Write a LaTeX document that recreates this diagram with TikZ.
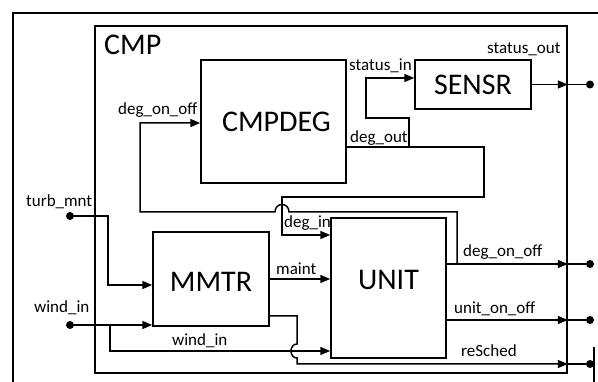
\documentclass[tikz,border=0pt]{standalone}
\usepackage{fontspec}
\setmainfont{Carlito}
\usetikzlibrary{arrows.meta}
\tikzset{
  blk/.style={draw, line width=1.5pt, inner sep=0pt, rectangle},
  big/.style={font=\fontsize{30}{30}\selectfont, inner sep=0pt},
  lbl/.style={font=\fontsize{17}{18}\selectfont, anchor=base west, inner sep=0pt},
  wire/.style={line width=1.5pt},
  arr/.style={wire, -{Triangle[length=10pt,width=8pt]}},
  pin/.style={circle, fill, inner sep=0pt, minimum size=8pt},
}
\begin{document}
\begin{tikzpicture}[x=1pt,y=-1pt]
\useasboundingbox (0,0) rectangle (598,382);
% outer frame
\draw[line width=2.5pt] (598,13) -- (13,13) -- (13,383);
% boxes
\node[blk, minimum width=472pt, minimum height=347pt] (cmp) at (331,199.5) {};
\node[big, anchor=base west] (cmplbl) at (104,55) {CMP};
\node[blk, minimum width=145pt, minimum height=123pt] (cmpdeg) at (273.5,121.5) {};
\node[big, xshift=3pt] (cmpdegt) at (cmpdeg.center) {CMPDEG};
\node[blk, minimum width=116pt, minimum height=49pt] (sensr) at (473,84.5) {};
\node[big] (sensrt) at (sensr.center) {SENSR};
\node[blk, minimum width=116pt, minimum height=94pt] (mmtr) at (211,279) {};
\node[big, yshift=-3pt] (mmtrt) at (mmtr.center) {MMTR};
\node[blk, minimum width=115pt, minimum height=140pt] (unit) at (388.5,288) {};
\node[big, yshift=8pt] (unitt) at (unit.center) {UNIT};
% pins
\node[pin] (d1) at (590,84.5) {};
\node[pin] (d2) at (590,264) {};
\node[pin] (d3) at (590,320) {};
\node[pin] (d4) at (590,364) {};
\node[pin] (dt) at (70,216) {};
\node[pin] (dw) at (70,325) {};
% junction coordinates
\coordinate (jso) at (409,147);
\coordinate (jdo) at (457,264);
\coordinate (jwi) at (110,325);
% status_out
\draw[arr] (sensr.east) -- (sensr.east -| cmp.east);
\draw[wire] (sensr.east -| cmp.east) -- (d1);
% deg_out -> deg_in
\draw[arr] ([yshift=-25.5pt]cmpdeg.east) -- (484,147) -- (484,197) -- (282,197) |- ([yshift=53pt]unit.west);
% status_in
\draw[arr] (jso) -- (409,118) -- (366,118) |- ([yshift=6.5pt]sensr.west);
% deg_on_off feedback
\draw[arr] (jdo) -- (457,212) -- (289,212) .. controls (289,202) and (275,202) .. (275,212) -- (140,212) |- ([yshift=-1.5pt]cmpdeg.west);
% outputs
\draw[arr] ([yshift=24pt]unit.east) -- (d2 -| cmp.east);
\draw[wire] (d2 -| cmp.east) -- (d2);
\draw[arr] ([yshift=-32pt]unit.east) -- (d3 -| cmp.east);
\draw[wire] (d3 -| cmp.east) -- (d3);
% reSched
\draw[arr] ([yshift=-37pt]mmtr.east) -- (297,316) -- (297,344) .. controls (289,344) and (289,358) .. (297,358) -- (297,364) -- (d4 -| cmp.east);
\draw[wire] (d4 -| cmp.east) -- (d4);
\draw[wire] (594,347) -- (594,383);
% inputs
\draw[arr] (dt) -- (108,216) |- ([yshift=-6pt]mmtr.west);
\draw[arr] (dw) -- ([yshift=-46pt]mmtr.west);
\draw[arr] (jwi) |- ([yshift=-63pt]unit.west);
\draw[arr] (mmtr.east) -- (mmtr.east -| unit.west);
% labels
\node[lbl] (l1) at (118,115) {deg\_on\_off};
\node[lbl] (l2) at (349,71) {status\_in};
\node[lbl] (l3) at (487,54) {status\_out};
\node[lbl] (l4) at (350,143) {deg\_out};
\node[lbl] (l5) at (284,228) {deg\_in};
\node[lbl] (l6) at (276,275) {maint};
\node[lbl] (l7) at (172,346) {wind\_in};
\node[lbl] (l8) at (34,313) {wind\_in};
\node[lbl] (l9) at (26,207) {turb\_mnt};
\node[lbl] (l10) at (463,257) {deg\_on\_off};
\node[lbl] (l11) at (454,314) {unit\_on\_off};
\node[lbl] (l12) at (461,357) {reSched};
\end{tikzpicture}
\end{document}
